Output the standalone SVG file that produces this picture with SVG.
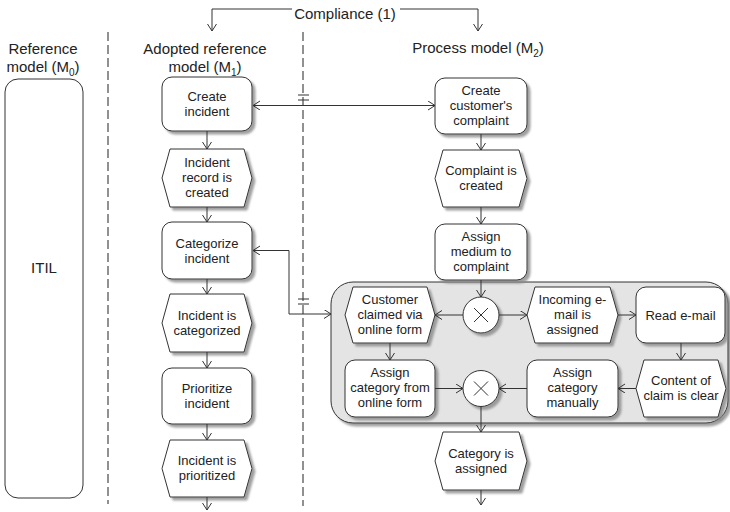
<svg xmlns="http://www.w3.org/2000/svg" width="730" height="512" viewBox="0 0 730 512">
<style>
.n{fill:#fff;stroke:#333;stroke-width:1;filter:url(#sh)}
.g{fill:#e4e4e4;stroke:#333;stroke-width:1;filter:url(#sh)}
.t{font-family:"Liberation Sans",Arial,sans-serif;font-size:13px;fill:#222;text-anchor:middle}
.h{font-size:15px}
.c{fill:none;stroke:#333;stroke-width:1}
.a{marker-end:url(#ar)}
.d{fill:none;stroke:#222;stroke-width:1;stroke-dasharray:9 4}
</style>
<defs>
<filter id="sh" x="-10%" y="-10%" width="130%" height="130%">
<feGaussianBlur in="SourceAlpha" stdDeviation="1"/>
<feOffset dx="3" dy="3" result="o"/>
<feFlood flood-color="#888" flood-opacity="0.8"/>
<feComposite in2="o" operator="in"/>
<feMerge><feMergeNode/><feMergeNode in="SourceGraphic"/></feMerge>
</filter>
<marker id="ar" markerUnits="userSpaceOnUse" markerWidth="10" markerHeight="10" refX="7" refY="4.5" orient="auto-start-reverse" viewBox="0 0 10 10">
<path d="M0,0 L7,4.5 L0,9" fill="none" stroke="#333" stroke-width="1"/>
</marker>
</defs>
<rect width="730" height="512" fill="#fff"/>

<!-- headers -->
<g id="headers">
<text class="t h" x="43" y="54">Reference</text>
<text class="t h" x="43" y="72">model (M<tspan font-size="10" dy="4">0</tspan><tspan dy="-4">)</tspan></text>
<text class="t h" x="205" y="54">Adopted reference</text>
<text class="t h" x="205" y="72">model (M<tspan font-size="10" dy="4">1</tspan><tspan dy="-4">)</tspan></text>
<text class="t h" x="478" y="53">Process model (M<tspan font-size="10" dy="4">2</tspan><tspan dy="-4">)</tspan></text>
<text class="t h" x="345" y="19">Compliance (1)</text>
</g>

<!-- swimlane separators -->
<line class="d" x1="108" y1="32" x2="108" y2="504"/>
<line class="d" x1="303" y1="32" x2="303" y2="506"/>

<!-- ITIL -->
<g id="itil">
<rect x="5" y="79" width="78" height="419" rx="13" fill="#fff" stroke="#333"/>
<text class="t h" x="44" y="273">ITIL</text>
</g>

<!-- grey container -->
<g id="container">
<rect class="g" x="331" y="282" width="397" height="141" rx="22"/>
</g>

<!-- left column -->
<g id="create-incident">
<rect class="n" x="162" y="77" width="90" height="54" rx="10"/>
<text class="t" x="207" y="101">Create</text><text class="t" x="207" y="116">incident</text>
</g>
<g id="incident-record-created">
<polygon class="n" points="170,149 244,149 252,178 244,207 170,207 162,178"/>
<text class="t" x="207" y="167">Incident</text><text class="t" x="207" y="182">record is</text><text class="t" x="207" y="197">created</text>
</g>
<g id="categorize-incident">
<rect class="n" x="162" y="222" width="90" height="57" rx="10"/>
<text class="t" x="207" y="248">Categorize</text><text class="t" x="207" y="263">incident</text>
</g>
<g id="incident-categorized">
<polygon class="n" points="170,294 244,294 252,323 244,352 170,352 162,323"/>
<text class="t" x="207" y="320">Incident is</text><text class="t" x="207" y="335">categorized</text>
</g>
<g id="prioritize-incident">
<rect class="n" x="162" y="368" width="90" height="56" rx="10"/>
<text class="t" x="207" y="393">Prioritize</text><text class="t" x="207" y="408">incident</text>
</g>
<g id="incident-prioritized">
<polygon class="n" points="170,440 244,440 252,468.5 244,497 170,497 162,468.5"/>
<text class="t" x="207" y="465">Incident is</text><text class="t" x="207" y="480">prioritized</text>
</g>

<!-- right column -->
<g id="create-complaint">
<rect class="n" x="435" y="78" width="92" height="56" rx="10"/>
<text class="t" x="481" y="95">Create</text><text class="t" x="481" y="110">customer's</text><text class="t" x="481" y="125">complaint</text>
</g>
<g id="complaint-created">
<polygon class="n" points="443,150 519,150 527,178.5 519,207 443,207 435,178.5"/>
<text class="t" x="481" y="175">Complaint is</text><text class="t" x="481" y="190">created</text>
</g>
<g id="assign-medium">
<rect class="n" x="435" y="224" width="92" height="56" rx="10"/>
<text class="t" x="481" y="241">Assign</text><text class="t" x="481" y="256">medium to</text><text class="t" x="481" y="271">complaint</text>
</g>
<g id="customer-claimed">
<polygon class="n" points="353,287 427,287 435,315 427,343 353,343 345,315"/>
<text class="t" x="390" y="304">Customer</text><text class="t" x="390" y="319">claimed via</text><text class="t" x="390" y="334">online form</text>
</g>
<g id="xor1">
<circle class="n" cx="481" cy="315" r="18"/>
<path class="c" d="M474,308 L488,322 M488,308 L474,322"/>
</g>
<g id="incoming-email">
<polygon class="n" points="535,287 610,287 618,315 610,343 535,343 527,315"/>
<text class="t" x="572.5" y="304">Incoming e-</text><text class="t" x="572.5" y="319">mail is</text><text class="t" x="572.5" y="334">assigned</text>
</g>
<g id="read-email">
<rect class="n" x="636" y="287" width="89" height="56" rx="10"/>
<text class="t" x="680.5" y="320">Read e-mail</text>
</g>
<g id="content-clear">
<polygon class="n" points="644,360 718,360 726,388.5 718,417 644,417 636,388.5"/>
<text class="t" x="681" y="385">Content of</text><text class="t" x="681" y="400">claim is clear</text>
</g>
<g id="assign-manually">
<rect class="n" x="527" y="360" width="91" height="57" rx="10"/>
<text class="t" x="572.5" y="377">Assign</text><text class="t" x="572.5" y="392">category</text><text class="t" x="572.5" y="407">manually</text>
</g>
<g id="xor2">
<circle class="n" cx="481" cy="388.5" r="18"/>
<path class="c" d="M474,381.5 L488,395.5 M488,381.5 L474,395.5"/>
</g>
<g id="assign-online">
<rect class="n" x="345" y="360" width="90" height="57" rx="10"/>
<text class="t" x="390" y="377">Assign</text><text class="t" x="390" y="392">category from</text><text class="t" x="390" y="407">online form</text>
</g>
<g id="category-assigned">
<polygon class="n" points="443,432 519,432 527,461 519,490 443,490 435,461"/>
<text class="t" x="481" y="458">Category is</text><text class="t" x="481" y="473">assigned</text>
</g>

<!-- connectors -->
<g id="connectors">
<path class="c a" d="M292,9 H212 V31"/>
<path class="c a" d="M400,9 H478 V31"/>
<path class="c a" d="M207,131 V149"/>
<path class="c a" d="M207,207 V222"/>
<path class="c a" d="M207,279 V294"/>
<path class="c a" d="M207,352 V368"/>
<path class="c a" d="M207,424 V440"/>
<path class="c a" d="M207,497 V510"/>
<path class="c a" d="M481,134 V150"/>
<path class="c a" d="M481,207 V224"/>
<path class="c a" d="M481,280 V297"/>
<path class="c a" d="M463,315 H435"/>
<path class="c a" d="M499,315 H527"/>
<path class="c a" d="M618,315 H636"/>
<path class="c a" d="M681,343 V360"/>
<path class="c a" d="M636,388.5 H618"/>
<path class="c a" d="M527,388.5 H499"/>
<path class="c a" d="M435,388.5 H463"/>
<path class="c a" d="M390,343 V360"/>
<path class="c a" d="M481,406.5 V432"/>
<path class="c a" d="M481,490 V505"/>
<path class="c a" d="M253,105.5 H435" marker-start="url(#ar)"/>
<path class="c a" d="M253,250.5 H289 V314 H331" marker-start="url(#ar)"/>
<path class="c" d="M298,95 H309 M298,100 H309"/>
<path class="c" d="M298,299 H309 M298,304 H309"/>
</g>
</svg>
